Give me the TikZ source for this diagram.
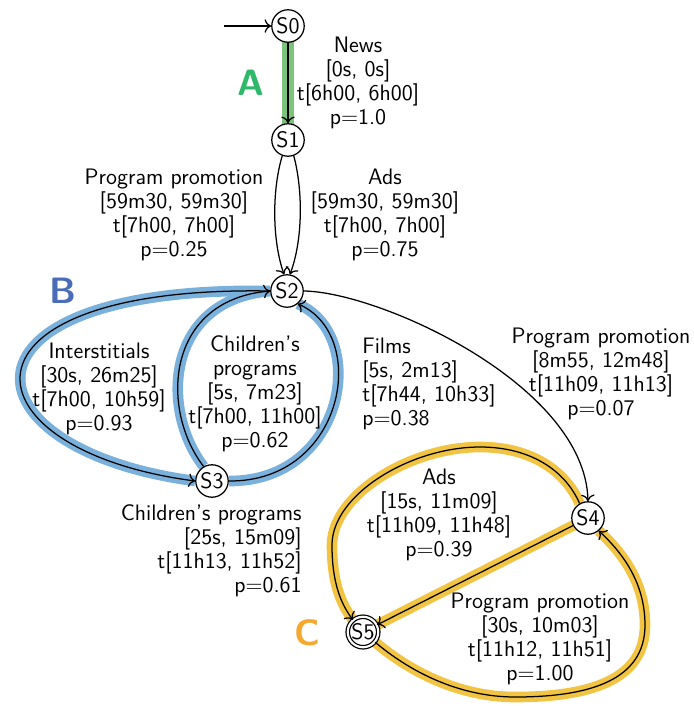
\documentclass[tikz,border=0pt]{standalone}
\usetikzlibrary{backgrounds,arrows.meta}
\definecolor{hgreen}{HTML}{7CC47C}
\definecolor{hblue}{HTML}{7AB0DC}
\definecolor{hyellow}{HTML}{F2C444}
\definecolor{lA}{HTML}{2DB86A}
\definecolor{lB}{HTML}{4A6DB8}
\definecolor{lC}{HTML}{F4A82E}
\begin{document}
\begin{tikzpicture}[x=0.518pt,y=-0.518pt,
  st/.style={circle,draw,fill=white,minimum size=16.8pt,inner sep=0pt,font=\sffamily\fontsize{11.6}{12.4}\selectfont,line width=0.65pt},
  fin/.style={st,double,double distance=1.1pt,minimum size=15.8pt},
  edge/.style={-{To[length=3.4pt,width=7pt]},line width=0.65pt},
  lbl/.style={font=\sffamily\fontsize{11.6}{12.4}\selectfont,align=center,inner sep=0pt},
  hA/.style={line width=5.8pt,draw=hgreen},
  hB/.style={line width=5.5pt,draw=hblue},
  hC/.style={line width=5.5pt,draw=hyellow},
  big/.style={font=\sffamily\bfseries\fontsize{19}{20}\selectfont,inner sep=0pt}]
\useasboundingbox (0,0) rectangle (694,706);
% states
\node[st] (S0) at (288,26) {S0};
\node[st] (S1) at (288,140) {S1};
\node[st] (S2) at (287,291) {S2};
\node[st] (S3) at (212,481) {S3};
\node[st] (S4) at (588,518) {S4};
\node[fin] (S5) at (363,632) {S5};
\coordinate (init) at (224,26);
% highlights
\begin{scope}[on background layer]
\draw[hA] (S0.center) -- (S1.center);
\draw[hB] (S2.180) .. controls (-60,285) and (-40,450) .. (S3.180);
\draw[hB] (S3.120) .. controls (160,410) and (165,300) .. (S2.180);
\draw[hB] (S3.0) .. controls (345,482) and (370,335) .. (S2.-50);
\draw[hC] (S4.120) .. controls (565,470) and (530,447) .. (480,447)
  .. controls (410,447) and (332,495) .. (332,545)
  .. controls (332,585) and (342,605) .. (S5.130);
\draw[hC] (S4.center) -- (S5.center);
\draw[hC] (S5.-40) .. controls (420,680) and (470,697) .. (515,697)
  .. controls (590,697) and (645,680) .. (645,625)
  .. controls (645,585) and (625,555) .. (S4.-50);
\end{scope}
% edges
\draw[edge] (init) -- (S0);
\draw[edge] (S0) -- (S1);
\draw[edge] (S1.250) .. controls (272,190) and (272,240) .. (S2.100);
\draw[edge] (S1.290) .. controls (303,190) and (303,240) .. (S2.80);
\draw[edge] (S2.180) .. controls (-60,285) and (-40,450) .. (S3.180);
\draw[edge] (S3.120) .. controls (160,410) and (165,300) .. (S2.180);
\draw[edge] (S3.0) .. controls (345,482) and (370,335) .. (S2.-50);
\draw[edge] (S2.0) .. controls (380,292) and (585,385) .. (S4.90);
\draw[edge] (S4.120) .. controls (565,470) and (530,447) .. (480,447)
  .. controls (410,447) and (332,495) .. (332,545)
  .. controls (332,585) and (342,605) .. (S5.130);
\draw[edge] (S4) -- (S5);
\draw[edge] (S5.-40) .. controls (420,680) and (470,697) .. (515,697)
  .. controls (590,697) and (645,680) .. (645,625)
  .. controls (645,585) and (625,555) .. (S4.-50);
% labels
\node[lbl] (tNews) at (358,83) {News\\{[0s, 0s]}\\t[6h00, 6h00]\\p=1.0};
\node[lbl] (tPP1) at (174,215) {Program promotion\\{[59m30, 59m30]}\\t[7h00, 7h00]\\p=0.25};
\node[lbl] (tAds1) at (385,215) {Ads\\{[59m30, 59m30]}\\t[7h00, 7h00]\\p=0.75};
\node[lbl] (tInt) at (99,389) {Interstitials\\{[30s, 26m25]}\\t[7h00, 10h59]\\p=0.93};
\node[lbl] (tCh1) at (255,394) {Children's\\programs\\{[5s, 7m23]}\\t[7h00, 11h00]\\p=0.62};
\node[lbl,align=left,anchor=west] (tFilms) at (362,384) {Films\\{[5s, 2m13]}\\t[7h44, 10h33]\\p=0.38};
\node[lbl] (tPP2) at (601,374) {Program promotion\\{[8m55, 12m48]}\\t[11h09, 11h13]\\p=0.07};
\node[lbl,align=right,anchor=east] (tCh2) at (302,551) {Children's programs\\{[25s, 15m09]}\\t[11h13, 11h52]\\p=0.61};
\node[lbl] (tAds2) at (439,515) {Ads\\{[15s, 11m09]}\\t[11h09, 11h48]\\p=0.39};
\node[lbl] (tPP3) at (540,639) {Program promotion\\{[30s, 10m03]}\\t[11h12, 11h51]\\p=1.00};
% group letters
\node[big,text=lA] (gA) at (251,83) {A};
\node[big,text=lB] (gB) at (63,291) {B};
\node[big,text=lC] (gC) at (307,633) {C};
\end{tikzpicture}
\end{document}
